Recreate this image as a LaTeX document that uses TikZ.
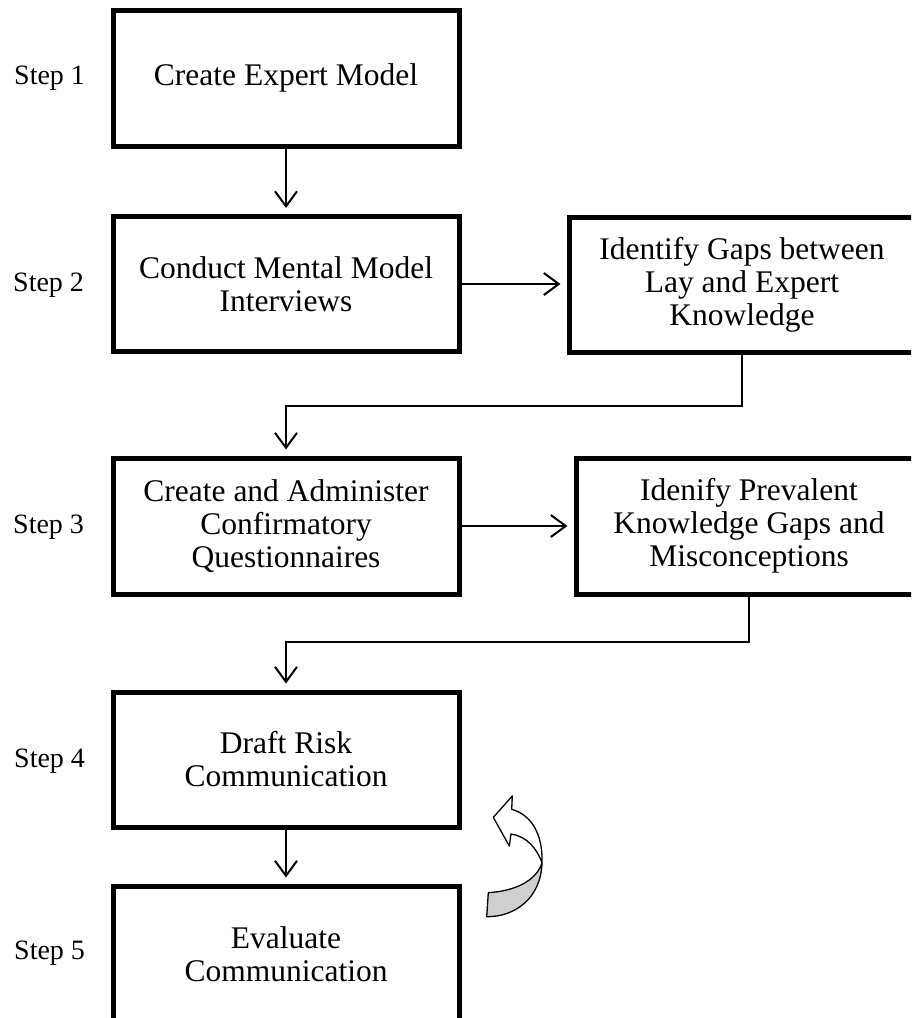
\documentclass[tikz,border=0pt]{standalone}
\usepackage{fontspec}
\setmainfont{Liberation Serif}
\usetikzlibrary{arrows.meta}
\begin{document}
\begin{tikzpicture}[x=1pt,y=-1pt,
  stepbox/.style={draw, line width=5pt, minimum width=346pt, minimum height=136pt,
    align=center, inner sep=0pt, font=\fontsize{31.5}{33}\selectfont},
  steplabel/.style={anchor=base west, inner sep=0pt, font=\fontsize{28}{30}\selectfont},
  flow/.style={line width=2pt, -{Straight Barb[length=15pt,width=22pt,line width=2pt]},
    shorten >=6pt},
  ribbon/.style={line width=1.3pt, line join=round}]
\useasboundingbox (0,0) rectangle (911,1018);
\clip (0,0) rectangle (911,1018);

% process boxes
\node[stepbox] (s1) at (286,78) {Create Expert Model};
\node[stepbox, minimum height=135pt] (s2) at (286,284) {Conduct Mental Model\\Interviews};
\node[stepbox, minimum height=135pt] (gapA) at (742,284.5) {Identify Gaps between\\Lay and Expert\\Knowledge};
\node[stepbox] (s3) at (286,526) {Create and Administer\\Confirmatory\\Questionnaires};
\node[stepbox] (gapB) at (749,526) {Idenify Prevalent\\Knowledge Gaps and\\Misconceptions};
\node[stepbox, minimum height=135pt] (s4) at (286,759.5) {Draft Risk\\Communication};
\node[stepbox] (s5) at (286,954) {Evaluate\\Communication};

% step labels
\node[steplabel] (l1) at (14,84) {Step 1};
\node[steplabel] (l2) at (13,291) {Step 2};
\node[steplabel] (l3) at (13,533) {Step 3};
\node[steplabel] (l4) at (14,767) {Step 4};
\node[steplabel] (l5) at (14,959) {Step 5};

% connectors
\coordinate (jA) at (286,406);
\coordinate (jB) at (286,642);
\draw[flow] (s1) -- (s2);
\draw[flow] (s2.east) -- (s2.east -| gapA.west);
\draw[flow] (gapA.south) |- (jA) -- (s3.north);
\draw[flow] (s3.east) -- (s3.east -| gapB.west);
\draw[flow] (gapB.south) |- (jB) -- (s4.north);
\draw[flow] (s4) -- (s5);

% curved feedback arrow (ribbon with shaded underside)
\draw[ribbon, fill=black!19] (488.3,892.7) .. controls (515,891) and (536,881) .. (542,863)
  .. controls (541,898) and (515,917) .. (486.7,916.7) -- cycle;
\draw[ribbon, fill=white] (542,863) .. controls (537,848) and (526,836) .. (511,834)
  -- (509.3,846) -- (493.3,817.3) -- (512.3,796) -- (511.7,809.3)
  .. controls (532,815) and (543,835) .. (542,863) -- cycle;
\end{tikzpicture}
\end{document}
